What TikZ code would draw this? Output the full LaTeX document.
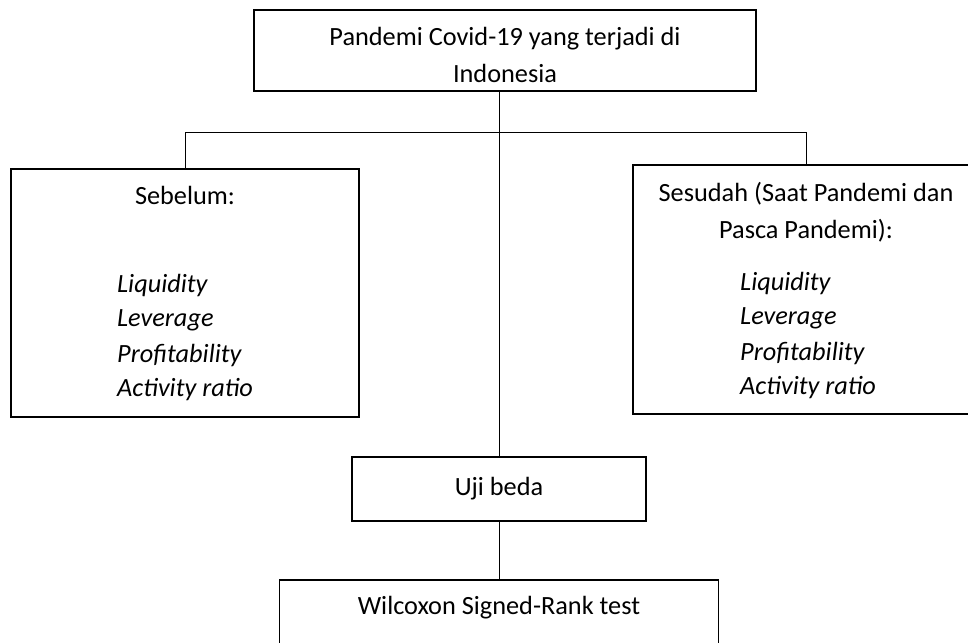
\documentclass[tikz,border=0pt]{standalone}
\usepackage{fontspec}
\setmainfont{Carlito}
\usetikzlibrary{positioning}

\begin{document}
\begin{tikzpicture}[x=1pt, y=-1pt,
    box/.style={draw, line width=1.8pt, inner sep=0pt},
    link/.style={line width=1pt},
    txt/.style={font=\fontsize{26.3}{37}\selectfont, inner sep=0pt},
    item/.style={font=\fontsize{26.3}{35}\selectfont\itshape, inner sep=0pt, anchor=west}]

    \useasboundingbox (0,0) rectangle (968,642);

    % kotak
    \node[box, minimum width=502pt, minimum height=81pt] (pandemi) at (505,50.5) {};
    \node[box, minimum width=348pt, minimum height=248pt] (sebelum) at (185,293) {};
    \node[box, minimum width=346pt, minimum height=249pt] (sesudah) at (806,289.5) {};
    \node[box, txt, minimum width=294pt, minimum height=64pt] (uji) at (499,489) {Uji beda};
    \node[box, minimum width=439pt, minimum height=64pt] (wilcoxon) at (499,612) {};

    % teks
    \node[txt, align=center] (judul0) at (505,55) {Pandemi Covid-19 yang terjadi di\\Indonesia};
    \node[txt] (judul1) at (185,195) {Sebelum:};
    \node[txt, align=center] (judul2) at (806,212) {Sesudah (Saat Pandemi dan\\Pasca Pandemi):};
    \node[txt] (wtext) at (499,608) {Wilcoxon Signed-Rank test};

    \foreach \v [count=\i] in {Liquidity, Leverage, Profitability, Activity ratio} {
        \node[item] (a\i) at (117,{250+35*\i}) {\v};
        \node[item] (b\i) at (740,{248+35*\i}) {\v};
    }

    % garis
    \coordinate (bar) at (0,132);
    \draw[link] (sebelum.north) -- (sebelum.north |- bar) -- (sesudah.north |- bar) -- (sesudah.north);
    \draw[link] (uji.north |- pandemi.south) -- (uji.north);
    \draw[link] (uji.south) -- (uji.south |- wilcoxon.north);

\end{tikzpicture}
\end{document}
